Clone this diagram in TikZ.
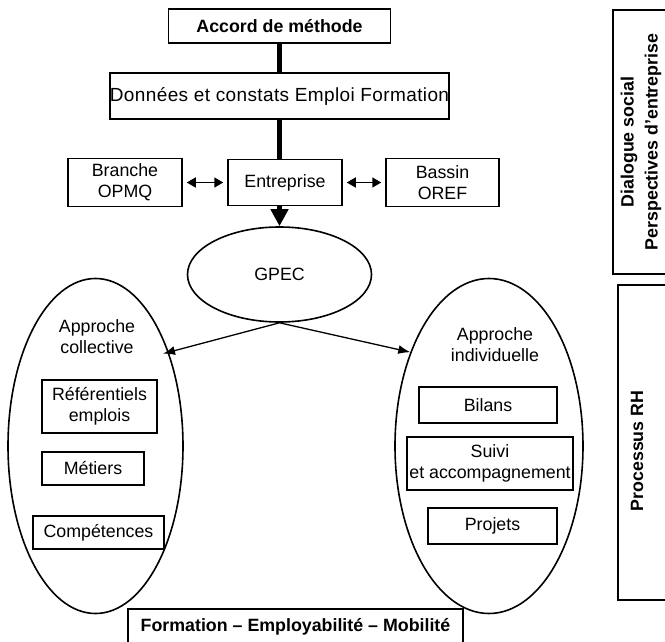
\documentclass[tikz,border=0pt]{standalone}
\usepackage{fontspec}
\setmainfont{Liberation Sans}
\usetikzlibrary{shapes.geometric,arrows.meta}

\tikzset{
  boite/.style={draw, line width=1.5pt, fill=white, inner sep=0pt, align=center,
    font=\fontsize{17.8}{21}\selectfont},
  titre/.style={boite, font=\fontsize{17.8}{24}\selectfont\bfseries},
  bulle/.style={ellipse, draw, line width=1.6pt, inner sep=0pt,
    font=\fontsize{17.8}{21}\selectfont},
  texte/.style={align=center, inner sep=0pt, font=\fontsize{17.8}{21}\selectfont},
  liaison/.style={{Triangle[length=9pt,width=10pt]}-{Triangle[length=9pt,width=10pt]},
    line width=1.5pt, shorten <=4pt, shorten >=4pt},
  fleche/.style={-{Latex[length=12pt,width=9pt]}, line width=1.3pt},
}

\begin{document}
\begin{tikzpicture}[x=1pt,y=-1pt]
\useasboundingbox (0,0) rectangle (665,642);
% colonne centrale
\node[titre, minimum width=222, minimum height=34] (accord) at (279.5,26) {Accord de méthode};
\node[boite, minimum width=317, minimum height=46, font=\fontsize{19}{22}\selectfont] (donnees) at (279.5,96) {\addfontfeature{LetterSpace=2}Données et constats Emploi Formation};
\node[boite, minimum width=114, minimum height=46] (entreprise) at (285,182.5) {Entreprise};
\node[boite, minimum width=114, minimum height=48] (branche) at (125,182.5) {Branche\\OPMQ};
\node[boite, minimum width=113, minimum height=48] (bassin) at (442.5,182.5) {Bassin\\OREF};
\node[bulle, minimum width=184, minimum height=95] (gpec) at (279.5,274.5) {GPEC};
\draw[line width=5pt] (accord.south) -- (donnees.north);
\draw[line width=5pt] (donnees.south) -- (donnees.south |- entreprise.north);
\draw[line width=5pt, -{Triangle[length=17pt,width=17pt]}] (donnees.south |- entreprise.south) -- (gpec.north);
\draw[liaison] (branche) -- (entreprise);
\draw[liaison] (entreprise) -- (bassin);
% les deux approches
\node[bulle, minimum width=175, minimum height=335] (coll) at (95.5,446) {};
\node[bulle, minimum width=188, minimum height=335] (indiv) at (489,446) {};
\node[texte] (colltxt) at (97,337) {Approche\\collective};
\node[texte] (indivtxt) at (495,345) {Approche\\individuelle};
\draw[fleche, shorten >=-6pt] (gpec.south) -- (coll.52);
\draw[fleche] (gpec.south) -- (indiv.130);
\node[boite, minimum width=115, minimum height=53] (referentiels) at (99.5,406.5) {Référentiels\\emplois};
\node[boite, minimum width=102, minimum height=33] (metiers) at (93,468.5) {Métiers};
\node[boite, minimum width=131, minimum height=33] (competences) at (98.5,532.5) {Compétences};
\node[boite, minimum width=138, minimum height=36] (bilans) at (488,405) {Bilans};
\node[boite, minimum width=166, minimum height=53] (suivi) at (490,463.5) {Suivi\\et accompagnement};
\node[boite, minimum width=129, minimum height=36] (projets) at (492.5,526) {Projets};
\node[titre, minimum width=335, minimum height=36] (formation) at (295.5,627) {Formation – Employabilité – Mobilité};
% bandeaux de droite
\node[titre, rotate=90, minimum width=264, minimum height=56] (dialogue) at (641,142) {Dialogue social\\Perspectives d'entreprise};
\node[titre, rotate=90, minimum width=315, minimum height=52] (processus) at (644,442.5) {};
\node[texte, font=\fontsize{17.8}{21}\selectfont\bfseries, rotate=90] (processustxt) at (637,451) {Processus RH};
\end{tikzpicture}
\end{document}
